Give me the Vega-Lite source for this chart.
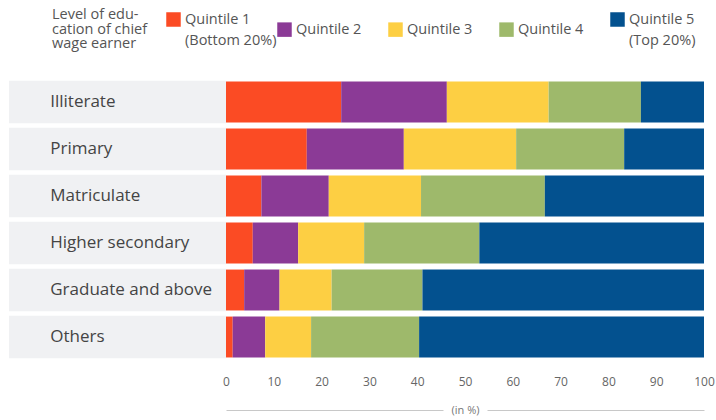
{
  "$schema": "https://vega.github.io/schema/vega-lite/v6.json",
  "padding": {"left": 9, "top": 12, "right": 2, "bottom": 4},
  "spacing": 0,
  "bounds": "flush",
  "background": "white",
  "config": {
    "view": {"stroke": null},
    "font": "Open Sans"
  },
  "datasets": {
    "levels": [
      {"level": "Illiterate"},
      {"level": "Primary"},
      {"level": "Matriculate"},
      {"level": "Higher secondary"},
      {"level": "Graduate and above"},
      {"level": "Others"}
    ],
    "shares": [
      {"level": "Illiterate", "quintile": "Quintile 1", "share": 24.1},
      {"level": "Illiterate", "quintile": "Quintile 2", "share": 22.1},
      {"level": "Illiterate", "quintile": "Quintile 3", "share": 21.3},
      {"level": "Illiterate", "quintile": "Quintile 4", "share": 19.3},
      {"level": "Illiterate", "quintile": "Quintile 5", "share": 13.2},
      {"level": "Primary", "quintile": "Quintile 1", "share": 16.9},
      {"level": "Primary", "quintile": "Quintile 2", "share": 20.3},
      {"level": "Primary", "quintile": "Quintile 3", "share": 23.5},
      {"level": "Primary", "quintile": "Quintile 4", "share": 22.6},
      {"level": "Primary", "quintile": "Quintile 5", "share": 16.7},
      {"level": "Matriculate", "quintile": "Quintile 1", "share": 7.4},
      {"level": "Matriculate", "quintile": "Quintile 2", "share": 14.1},
      {"level": "Matriculate", "quintile": "Quintile 3", "share": 19.3},
      {"level": "Matriculate", "quintile": "Quintile 4", "share": 25.9},
      {"level": "Matriculate", "quintile": "Quintile 5", "share": 33.3},
      {"level": "Higher secondary", "quintile": "Quintile 1", "share": 5.6},
      {"level": "Higher secondary", "quintile": "Quintile 2", "share": 9.5},
      {"level": "Higher secondary", "quintile": "Quintile 3", "share": 13.8},
      {"level": "Higher secondary", "quintile": "Quintile 4", "share": 24.1},
      {"level": "Higher secondary", "quintile": "Quintile 5", "share": 47.0},
      {"level": "Graduate and above", "quintile": "Quintile 1", "share": 3.8},
      {"level": "Graduate and above", "quintile": "Quintile 2", "share": 7.4},
      {"level": "Graduate and above", "quintile": "Quintile 3", "share": 10.9},
      {"level": "Graduate and above", "quintile": "Quintile 4", "share": 19.0},
      {"level": "Graduate and above", "quintile": "Quintile 5", "share": 58.9},
      {"level": "Others", "quintile": "Quintile 1", "share": 1.4},
      {"level": "Others", "quintile": "Quintile 2", "share": 6.8},
      {"level": "Others", "quintile": "Quintile 3", "share": 9.6},
      {"level": "Others", "quintile": "Quintile 4", "share": 22.6},
      {"level": "Others", "quintile": "Quintile 5", "share": 59.6}
    ]
  },
  "hconcat": [
    {
      "width": 217,
      "height": 283,
      "data": {"name": "levels"},
      "encoding": {
        "y": {
          "field": "level",
          "type": "nominal",
          "sort": ["Illiterate", "Primary", "Matriculate", "Higher secondary", "Graduate and above", "Others"],
          "axis": null,
          "scale": {"paddingInner": 0.1, "paddingOuter": 0.06}
        }
      },
      "layer": [
        {
          "mark": {"type": "bar", "color": "#f0f1f3"},
          "encoding": {
            "x": {"datum": 0, "type": "quantitative", "scale": {"domain": [0, 1], "nice": false}, "axis": null},
            "x2": {"datum": 1}
          }
        },
        {
          "mark": {"type": "text", "align": "left", "baseline": "middle", "fontSize": 17, "color": "#444"},
          "encoding": {
            "x": {"datum": 0.19, "type": "quantitative"},
            "text": {"field": "level"}
          }
        }
      ]
    },
    {
      "width": 478,
      "height": 283,
      "data": {"name": "shares"},
      "mark": {"type": "bar"},
      "encoding": {
        "y": {
          "field": "level",
          "type": "nominal",
          "sort": ["Illiterate", "Primary", "Matriculate", "Higher secondary", "Graduate and above", "Others"],
          "axis": null,
          "scale": {"paddingInner": 0.13, "paddingOuter": 0.075}
        },
        "x": {
          "field": "share",
          "type": "quantitative",
          "stack": "zero",
          "scale": {"domain": [0, 100], "nice": false},
          "axis": {
            "values": [0, 10, 20, 30, 40, 50, 60, 70, 80, 90, 100],
            "grid": false,
            "ticks": false,
            "domain": true,
            "domainColor": "#c8c8c8",
            "domainWidth": 1,
            "domainDash": [217, 44, 1000],
            "offset": 49,
            "labelPadding": -34,
            "labelFlush": false,
            "labelFontSize": 12,
            "labelColor": "#666",
            "title": "(in %)",
            "titleFontSize": 11,
            "titleFontWeight": "normal",
            "titleColor": "#777",
            "titleY": 0,
            "titleBaseline": "middle"
          }
        },
        "color": {
          "field": "quintile",
          "type": "nominal",
          "scale": {
            "domain": ["Quintile 1", "Quintile 2", "Quintile 3", "Quintile 4", "Quintile 5"],
            "range": ["#fb4b24", "#8b3a96", "#fdcf43", "#9eb96b", "#03518f"]
          },
          "legend": {
            "orient": "none",
            "legendX": 43,
            "legendY": -66,
            "direction": "horizontal",
            "columns": 5,
            "gridAlign": "all",
            "title": ["Level of edu-", "cation of chief", "wage earner"],
            "titleOrient": "left",
            "titleFontSize": 14.5,
            "titleFontWeight": "normal",
            "titleColor": "#555",
            "titlePadding": 18,
            "titleLineHeight": 14.5,
            "symbolType": "square",
            "symbolSize": 210,
            "symbolStrokeWidth": 0,
            "symbolOpacity": 1,
            "labelFontSize": 14.5,
            "labelColor": "#555",
            "labelOffset": 4,
            "columnPadding": 0,
            "labelExpr": "datum.label == 'Quintile 1' ? ['Quintile 1', '(Bottom 20%)'] : datum.label == 'Quintile 5' ? ['Quintile 5', '(Top 20%)'] : datum.label",
            "encode": {"labels": {"update": {"lineHeight": {"value": 21}}}}
          }
        },
        "order": {"field": "quintile"}
      }
    }
  ],
  "resolve": {"scale": {"x": "independent", "y": "independent"}}
}
